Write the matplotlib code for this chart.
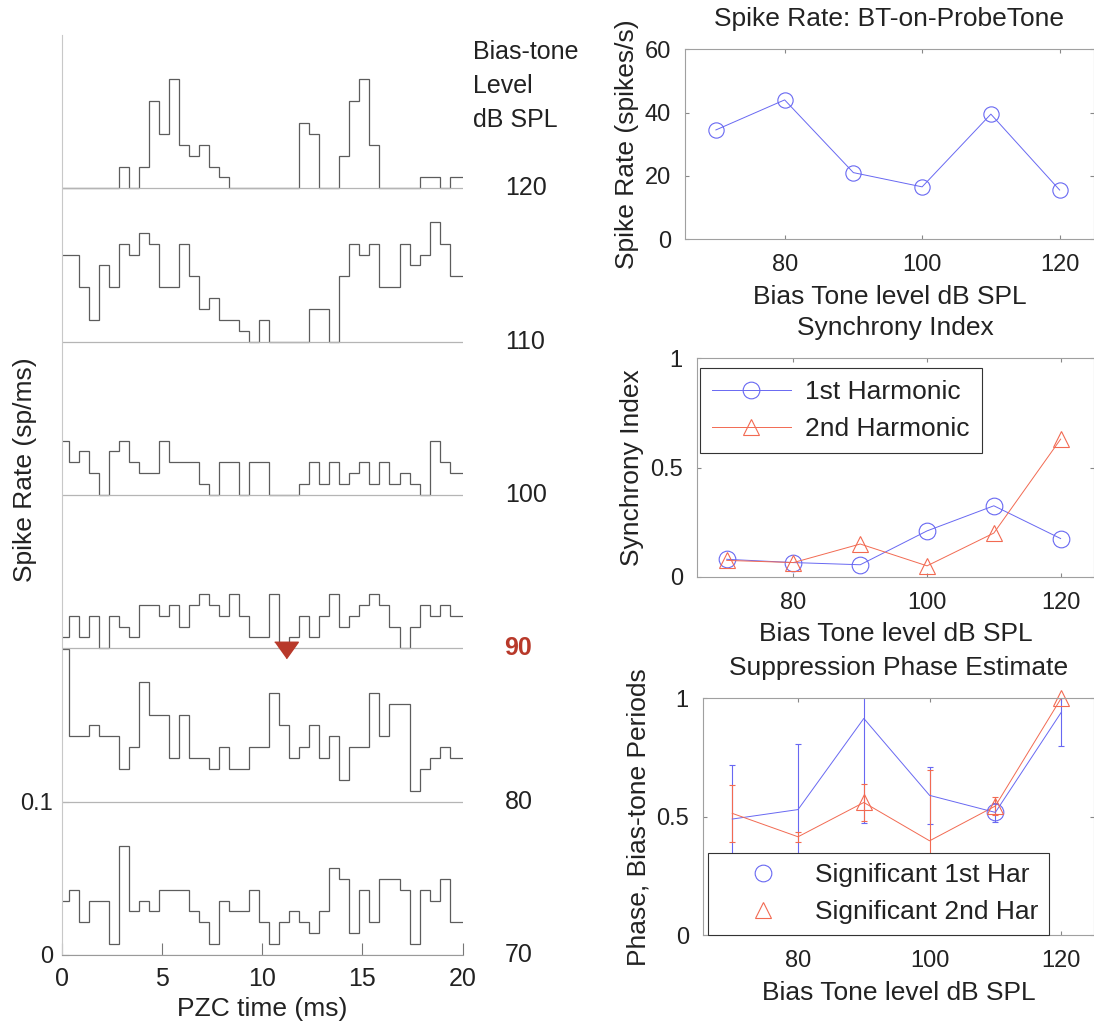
import matplotlib.pyplot as plt
from matplotlib.lines import Line2D

plt.rcParams['font.family'] = ['Liberation Sans', 'DejaVu Sans']
plt.rcParams['text.color'] = '#222222'
plt.rcParams['axes.labelcolor'] = '#222222'
plt.rcParams['xtick.color'] = '#222222'
plt.rcParams['ytick.color'] = '#222222'

# --- PZC histograms: spike counts per bin, one trace per bias-tone level ---
bias_levels = [70, 80, 90, 100, 110, 120]
bin_edges = [0.0] + [0.35 + 0.5 * k for k in range(39)] + [20.0]
rate_per_count = 0.0071   # sp/ms for one count in a bin
trace_step = 0.1          # vertical offset between traces (sp/ms)

counts_70 = [5, 6, 3, 5, 5, 1, 10, 4, 5, 4, 6, 6, 6, 4, 3, 1, 5, 4, 4, 6,
             3, 1, 3, 4, 3, 2, 4, 8, 7, 2, 6, 3, 7, 7, 6, 1, 6, 5, 7, 3]
counts_80 = [14, 6, 6, 7, 6, 6, 3, 5, 11, 8, 8, 4, 8, 4, 4, 3, 5, 3, 3, 5,
             5, 10, 7, 4, 5, 7, 4, 6, 2, 5, 5, 10, 6, 9, 9, 1, 3, 4, 5, 4]
counts_90 = [1, 3, 1, 3, 0, 3, 2, 1, 4, 4, 3, 4, 2, 4, 5, 4, 3, 5, 3, 1,
             1, 5, 0, 1, 3, 1, 3, 5, 2, 3, 4, 5, 4, 2, 0, 2, 4, 3, 4, 3]
counts_100 = [5, 3, 4, 2, 0, 4, 5, 3, 2, 2, 5, 3, 3, 3, 1, 0, 3, 3, 0, 3,
              3, 0, 0, 0, 1, 3, 1, 3, 1, 2, 3, 1, 3, 1, 2, 1, 0, 5, 3, 2]
counts_110 = [8, 8, 5, 2, 7, 5, 9, 8, 10, 9, 5, 5, 9, 6, 3, 4, 2, 2, 1, 0,
              2, 0, 0, 0, 0, 3, 3, 0, 6, 9, 8, 9, 5, 5, 9, 7, 8, 11, 9, 6]
counts_120 = [0, 0, 0, 0, 0, 0, 2, 0, 2, 8, 5, 10, 4, 3, 4, 2, 1, 0, 0, 0,
              0, 0, 0, 0, 6, 5, 0, 0, 3, 8, 10, 4, 0, 0, 0, 0, 1, 1, 0, 1]
pzc_counts = [counts_70, counts_80, counts_90, counts_100, counts_110, counts_120]
highlight_level = 90
suppression_time = 11.2   # ms, marked on the highlighted trace

# --- summary measures vs bias-tone level ---
bt_level = [70, 80, 90, 100, 110, 120]
spike_rate = [34.5, 44, 21, 16.5, 39.5, 15.5]
sync_1st = [0.08, 0.065, 0.055, 0.21, 0.325, 0.175]
sync_2nd = [0.075, 0.065, 0.15, 0.05, 0.2, 0.63]
phase_1st = [0.49, 0.53, 0.915, 0.59, 0.518, 0.94]
phase_1st_err = [0.23, 0.275, 0.44, 0.12, 0.04, 0.14]
phase_2nd = [0.514, 0.415, 0.56, 0.398, 0.545, 1.0]
phase_2nd_err = [0.12, 0.02, 0.08, 0.30, 0.04, 0.0]
sig_1st_levels = [110]
sig_2nd_levels = [90, 110, 120]

BLUE = '#6868f2'
RED = '#f26a52'
DARKRED = '#b8392a'
FS = 19
TFS = 17

fig = plt.figure(figsize=(10.94, 10.25), dpi=100)

# ---------------- left: stacked PZC histograms ----------------
ax = fig.add_axes([0.0564, 0.0683, 0.3665, 0.8976])
for i, (lvl, cnt) in enumerate(zip(bias_levels, pzc_counts)):
    base = i * trace_step
    ax.hlines(base, 0, 20, color='#b5b5b5', lw=0.9)
    ax.stairs([base + c * rate_per_count for c in cnt], bin_edges,
              baseline=None, color='#5c5c5c', lw=0.9)
    if lvl == highlight_level:
        ax.text(22.05, base, str(lvl), fontsize=18, fontweight='bold',
                color=DARKRED, va='center', ha='left', clip_on=False)
        ax.plot([suppression_time], [base - 0.001], ls='none',
                marker=[(-1, 0.7), (1, 0.7), (0, -0.7)], ms=17,
                color=DARKRED, clip_on=False, zorder=5)
    else:
        ax.text(22.1, base, str(lvl), fontsize=18, va='center', ha='left',
                clip_on=False)

ax.text(20.5, 0.597, 'Bias-tone\nLevel\ndB SPL', fontsize=18, va='top',
        ha='left', linespacing=1.53, clip_on=False)
ax.set_xlim(0, 20)
ax.set_ylim(0, 0.6)
ax.set_xticks([0, 5, 10, 15, 20])
ax.set_yticks([0, 0.1])
ax.set_yticklabels(['0', '0.1'])
ax.tick_params(axis='x', direction='in', length=9, labelsize=18, pad=9,
               color='#777777')
ax.tick_params(axis='y', direction='in', length=5, labelsize=17, pad=6,
               color='#999999')
for s in ('top', 'right'):
    ax.spines[s].set_visible(False)
ax.spines['left'].set_color('#c8c8c8')
ax.spines['bottom'].set_color('#9a9a9a')
ax.set_xlabel('PZC time (ms)', fontsize=FS, labelpad=4)
fig.text(25 / 1094, 1 - 470 / 1025, 'Spike Rate (sp/ms)', rotation=90,
         fontsize=FS, ha='center', va='center')


def style_box(a, title, ylabel):
    a.set_xlim(65.5, 125)
    a.set_xticks([80, 100, 120])
    a.tick_params(direction='in', top=True, right=True, length=3,
                  labelsize=TFS, color='#888888')
    a.tick_params(axis='x', pad=11)
    a.tick_params(axis='y', pad=10)
    for s in a.spines.values():
        s.set_color('#a0a0a0')
        s.set_linewidth(0.8)
    a.set_xlabel('Bias Tone level dB SPL', fontsize=FS, labelpad=6)
    a.set_title(title, fontsize=FS, pad=17)
    a.set_ylabel(ylabel, fontsize=FS, labelpad=4)


# ---------------- right top: spike rate ----------------
ax1 = fig.add_axes([0.6261, 0.7668, 0.3739, 0.1851])
ax1.plot(bt_level, spike_rate, color=BLUE, lw=0.7, marker='o', ms=11,
         mfc='none', mec=BLUE, mew=0.8)
ax1.set_ylim(0, 60)
ax1.set_yticks([0, 20, 40, 60])
style_box(ax1, 'Spike Rate: BT-on-ProbeTone', 'Spike Rate (spikes/s)')

# ---------------- right middle: synchrony index ----------------
ax2 = fig.add_axes([0.6368, 0.4373, 0.3632, 0.2131])
ax2.plot(bt_level, sync_1st, color=BLUE, lw=0.7, marker='o', ms=12,
         mfc='none', mec=BLUE, mew=0.8, label='1st Harmonic')
ax2.plot(bt_level, sync_2nd, color=RED, lw=0.7, marker='^', ms=12,
         mfc='none', mec=RED, mew=0.8, label='2nd Harmonic')
ax2.set_ylim(0, 1)
ax2.set_yticks([0, 0.5, 1])
ax2.set_yticklabels(['0', '0.5', '1'])
style_box(ax2, 'Synchrony Index', 'Synchrony Index')
leg2 = ax2.legend(loc='upper left', bbox_to_anchor=(0.008, 0.956),
                  fontsize=FS, frameon=True, fancybox=False, framealpha=1,
                  edgecolor='#333333', handlelength=3.0, borderpad=0.45,
                  labelspacing=0.5, handletextpad=0.55, borderaxespad=0)
leg2.get_frame().set_linewidth(0.8)

# ---------------- right bottom: suppression phase ----------------
ax3 = fig.add_axes([0.6423, 0.0878, 0.3577, 0.2309])
ax3.errorbar(bt_level, phase_1st, yerr=phase_1st_err, fmt='none',
             ecolor=BLUE, elinewidth=0.8, capsize=2.5, capthick=0.8)
ax3.errorbar(bt_level, phase_2nd, yerr=phase_2nd_err, fmt='none',
             ecolor=RED, elinewidth=0.8, capsize=2.5, capthick=0.8)
ax3.plot(bt_level, phase_1st, color=BLUE, lw=0.7)
ax3.plot(bt_level, phase_2nd, color=RED, lw=0.7)
ax3.plot(sig_1st_levels, [phase_1st[bt_level.index(v)] for v in sig_1st_levels],
         ls='none', marker='o', ms=12, mfc='none', mec=BLUE, mew=0.8)
ax3.plot(sig_2nd_levels, [phase_2nd[bt_level.index(v)] for v in sig_2nd_levels],
         ls='none', marker='^', ms=12, mfc='none', mec=RED, mew=0.8,
         clip_on=False)
ax3.set_ylim(0, 1)
ax3.set_yticks([0, 0.5, 1])
ax3.set_yticklabels(['0', '0.5', '1'])
style_box(ax3, 'Suppression Phase Estimate', 'Phase, Bias-tone Periods')
handles3 = [Line2D([], [], ls='none', marker='o', ms=12, mfc='none',
                   mec=BLUE, mew=0.8),
            Line2D([], [], ls='none', marker='^', ms=12, mfc='none',
                   mec=RED, mew=0.8)]
leg3 = ax3.legend(handles3, ['Significant 1st Har', 'Significant 2nd Har'],
                  loc='lower left', bbox_to_anchor=(0.0135, 0.0),
                  fontsize=FS, frameon=True, fancybox=False, framealpha=1,
                  edgecolor='#333333', handlelength=3.4, borderpad=0.4,
                  labelspacing=0.5, handletextpad=0.25, borderaxespad=0)
leg3.get_frame().set_linewidth(0.8)

fig.savefig('out.png', dpi=100)
